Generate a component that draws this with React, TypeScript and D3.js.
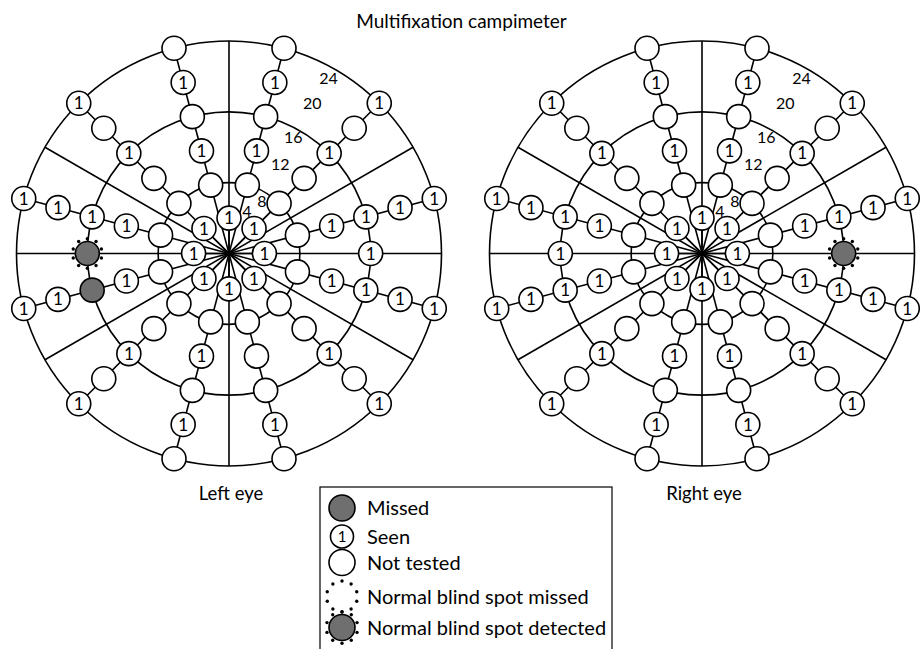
import React from 'react';
import * as d3 from 'd3';

const title = 'Multifixation campimeter';
const eyeNames = ['Left eye', 'Right eye'];
const gridRings = [8, 16, 24];
const diameterAngles = [0, 60, 90, 120];
const innerRingDeg = 4;
const innerAngles = [0, 45, 90, 135, 180, 225, 270, 315];
const chainAngles = [15, 45, 75, 105, 135, 165, 195, 225, 255, 285, 315, 345];
const chainDegs = [8, 12, 16, 20, 24];
// N = not tested, S = seen, M = missed, B = blind spot detected, D = blind spot missed
const leftChains = ['NSNSN', 'NNSNS', 'NSSSS', 'NSSSS', 'NNSNS', 'NNNSN', 'NSNSN', 'NNSNS', 'NSMSS', 'NSSSS', 'NNSNS', 'NSNSN'];
const rightChains = ['NSNSN', 'NNSNS', 'NSSSS', 'NSSSS', 'NNSNS', 'NSNSN', 'NSNSN', 'NNSNS', 'NSSSS', 'NSSSS', 'NNSNS', 'NSNSN'];
const leftInner = ['S', 'S', 'S', 'S', 'S', 'S', 'S', 'S'];
const rightInner = ['S', 'S', 'S', 'S', 'S', 'S', 'S', 'S'];
const extraDeg = 16;
const extraAngles = [90, 270];
const leftExtra = ['S', 'B'];
const rightExtra = ['B', 'S'];
const ringLabels = ['4', '8', '12', '16', '20', '24'];
const ringLabelAngle = [23, 32, 30, 29, 29, 29.5];
const ringLabelDeg = [5.2, 7.0, 11.6, 15.0, 19.4, 22.8];
const legendLabels = ['Missed', 'Seen', 'Not tested', 'Normal blind spot missed', 'Normal blind spot detected'];
const legendKinds = ['M', 'S', 'N', 'D', 'B'];
const legendRowGap = [0, 28.5, 26, 34, 31];

const W = 922;
const H = 649;
const FONT = 'Lato, "Noto Sans", sans-serif';
const GRAY = '#6f6f6f';
const PT_R = 12;
const SW = 1.6;

const eyeX = d3.scalePoint<string>().domain(eyeNames).range([229, 702]);
const CY = 253.5;
const rScale = d3.scaleLinear().domain([0, 24]).range([0, 212.5]);

function polar(cx: number, deg: number, angle: number): [number, number] {
  const r = rScale(deg);
  const a = (angle * Math.PI) / 180;
  return [cx + r * Math.sin(a), CY - r * Math.cos(a)];
}

function Dots({ x, y, r }: { x: number; y: number; r: number }) {
  const n = 10;
  return (
    <g>
      {d3.range(n).map((i) => {
        const a = (i / n) * 2 * Math.PI + Math.PI / n;
        return <circle key={i} cx={x + r * Math.cos(a)} cy={y + r * Math.sin(a)} r={1.7} fill="#000" />;
      })}
    </g>
  );
}

function Point({ x, y, kind, r = PT_R, fs = 17 }: { x: number; y: number; kind: string; r?: number; fs?: number }) {
  if (kind === 'D') return <Dots x={x} y={y} r={r + 2.5} />;
  const fill = kind === 'M' || kind === 'B' ? GRAY : '#fff';
  return (
    <g>
      {kind === 'B' && <Dots x={x} y={y} r={r + 2.8} />}
      <circle cx={x} cy={y} r={r} fill={fill} stroke="#000" strokeWidth={SW} />
      {kind === 'S' && (
        <text x={x} y={y} dy="0.36em" textAnchor="middle" fontFamily={FONT} fontSize={fs} fill="#000">
          1
        </text>
      )}
    </g>
  );
}

function Eye({ name, chains, inner, extra }: { name: string; chains: string[]; inner: string[]; extra: string[] }) {
  const cx = eyeX(name) as number;
  const R = rScale(24);
  const pts: { x: number; y: number; kind: string; key: string }[] = [];
  innerAngles.forEach((a, i) => {
    const [x, y] = polar(cx, innerRingDeg, a);
    pts.push({ x, y, kind: inner[i], key: `i${i}` });
  });
  chainAngles.forEach((a, i) => {
    chainDegs.forEach((d, j) => {
      const [x, y] = polar(cx, d, a);
      pts.push({ x, y, kind: chains[i][j], key: `c${i}-${j}` });
    });
  });
  extraAngles.forEach((a, i) => {
    const [x, y] = polar(cx, extraDeg, a);
    pts.push({ x, y, kind: extra[i], key: `e${i}` });
  });
  return (
    <g>
      {gridRings.map((d) => (
        <circle key={d} cx={cx} cy={CY} r={rScale(d)} fill="none" stroke="#000" strokeWidth={SW} />
      ))}
      {diameterAngles.map((a) => {
        const [x1, y1] = polar(cx, 24, a);
        const [x2, y2] = polar(cx, 24, a + 180);
        return <line key={a} x1={x1} y1={y1} x2={x2} y2={y2} stroke="#000" strokeWidth={SW} />;
      })}
      {chainAngles.map((a) => {
        const [x2, y2] = polar(cx, 24, a);
        return <line key={a} x1={cx} y1={CY} x2={x2} y2={y2} stroke="#000" strokeWidth={SW} />;
      })}
      {innerAngles.map((a) => {
        const [x2, y2] = polar(cx, innerRingDeg, a);
        return <line key={a} x1={cx} y1={CY} x2={x2} y2={y2} stroke="#000" strokeWidth={SW} />;
      })}
      {pts.map((p) => (
        <Point key={p.key} x={p.x} y={p.y} kind={p.kind} />
      ))}
      {ringLabels.map((t, i) => {
        const [x, y] = polar(cx, ringLabelDeg[i], ringLabelAngle[i]);
        return (
          <text key={t} x={x} y={y} dy="0.36em" textAnchor="middle" fontFamily={FONT} fontSize={16} fill="#000">
            {t}
          </text>
        );
      })}
      <text x={cx + 2} y={CY + R + 27} dy="0.36em" textAnchor="middle" fontFamily={FONT} fontSize={18.5} fill="#000">
        {name}
      </text>
    </g>
  );
}

export default function App() {
  const rowY = d3.cumsum(legendRowGap).map((v) => 508 + v);
  return (
    <svg width={W} height={H} style={{ position: 'absolute', left: 0, top: 0, background: '#fff' }}>
      <rect x={0} y={0} width={W} height={H} fill="#fff" />
      <text x={461.5} y={21} dy="0.36em" textAnchor="middle" fontFamily={FONT} fontSize={19} fill="#000">
        {title}
      </text>
      <Eye name={eyeNames[0]} chains={leftChains} inner={leftInner} extra={leftExtra} />
      <Eye name={eyeNames[1]} chains={rightChains} inner={rightInner} extra={rightExtra} />
      <g>
        <rect x={320} y={487} width={292} height={180} fill="#fff" stroke="#000" strokeWidth={1.2} />
        {legendLabels.map((l, i) => {
          const y = rowY[i];
          return (
            <g key={l}>
              <Point x={342} y={y} kind={legendKinds[i]} r={legendKinds[i] === 'S' ? 11.5 : 13} fs={15} />
              <text x={367} y={y} dy="0.36em" fontFamily={FONT} fontSize={20} fill="#000">
                {l}
              </text>
            </g>
          );
        })}
      </g>
    </svg>
  );
}
